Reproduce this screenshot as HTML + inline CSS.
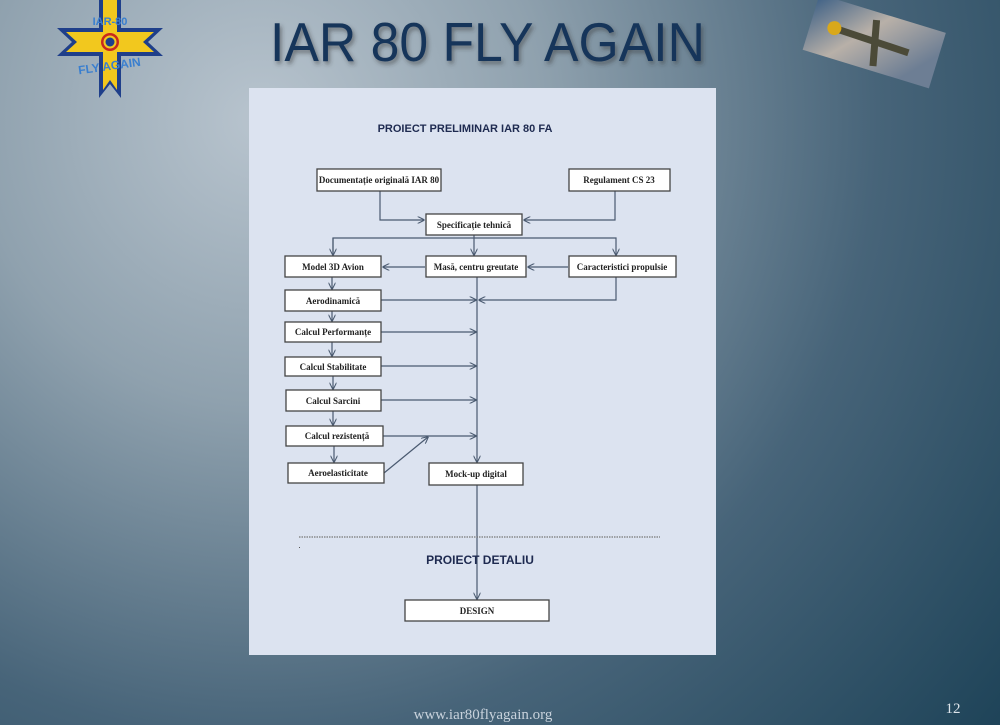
<!DOCTYPE html>
<html><head><meta charset="utf-8"><style>
html,body{margin:0;padding:0;width:1000px;height:725px;overflow:hidden}
svg{display:block}
.b{fill:#fff;stroke:#444;stroke-width:1.3}
.t{font-family:"Liberation Serif",serif;font-weight:bold;font-size:9px;fill:#222;text-anchor:middle}
.l{stroke:#4a5a70;stroke-width:1.2;fill:none}
</style></head><body>
<svg width="1000" height="725" viewBox="0 0 1000 725" xmlns="http://www.w3.org/2000/svg">
<defs>
<radialGradient id="bg" cx="260" cy="120" r="950" gradientUnits="userSpaceOnUse">
<stop offset="0" stop-color="#b8c4ce"/><stop offset="0.3" stop-color="#8fa1ae"/><stop offset="0.65" stop-color="#476479"/><stop offset="1" stop-color="#1f4459"/>
</radialGradient>
<linearGradient id="pl" x1="0" y1="0" x2="1" y2="0.4"><stop offset="0" stop-color="#3c5f85"/><stop offset="0.5" stop-color="#b8b0a8"/><stop offset="1" stop-color="#6d7e94"/></linearGradient>
<filter id="sh"><feDropShadow dx="2" dy="3" stdDeviation="2" flood-color="#333" flood-opacity="0.5"/></filter>
<marker id="a" viewBox="0 0 10 10" refX="9" refY="5" markerWidth="6" markerHeight="6" orient="auto"><path d="M0,0 L10,5 L0,10" fill="none" stroke="#4a5a70" stroke-width="1.5"/></marker>
</defs>
<rect width="1000" height="725" fill="url(#bg)"/>
<!-- logo -->
<polygon points="99,0 121,0 121,28 163,28 148,42 163,56 121,56 121,98 110,84 99,98 99,56 57,56 72,42 57,28 99,28" fill="#1f3f8a"/>
<polygon points="103,0 117,0 117,32 154,32 143,42 154,52 117,52 117,90 110,80 103,90 103,52 66,52 77,42 66,32 103,32" fill="#f2c81e"/>
<circle cx="110" cy="42" r="9" fill="#c8281e"/><circle cx="110" cy="42" r="6.5" fill="#f2c81e"/><circle cx="110" cy="42" r="4.5" fill="#1f3f8a"/>
<text x="110" y="25" font-family="Liberation Sans,sans-serif" font-size="11" fill="#3a7fcf" text-anchor="middle" font-weight="bold">IAR-80</text>
<text x="110" y="70" font-family="Liberation Sans,sans-serif" font-size="12" fill="#3a7fcf" text-anchor="middle" font-weight="bold" transform="rotate(-8 110 70)">FLY AGAIN</text>
<!-- title -->
<text x="270" y="61" font-family="Liberation Sans,sans-serif" font-size="55" fill="#18365a" textLength="435" lengthAdjust="spacingAndGlyphs" filter="url(#sh)">IAR 80 FLY AGAIN</text>
<!-- plane -->
<g transform="rotate(17 873 42)">
<rect x="808" y="12" width="132" height="58" fill="url(#pl)"/>
<path d="M830,40 L910,42 M870,20 L880,65" stroke="#4b4a38" stroke-width="7"/>
<circle cx="832" cy="40" r="7" fill="#d9a81a"/>
</g>
<!-- paper -->
<rect x="249" y="88" width="467" height="567" fill="#dce3f0"/>
<text x="465" y="132" font-family="Liberation Sans,sans-serif" font-weight="bold" font-size="11" fill="#1e2a50" text-anchor="middle">PROIECT PRELIMINAR IAR 80 FA</text>
<!-- connectors -->
<path class="l" d="M380,191 V220 H424" marker-end="url(#a)"/>
<path class="l" d="M615,191 V220 H524" marker-end="url(#a)"/>
<path class="l" d="M333,255 V238 H616 V255" marker-end="url(#a)"/>
<path class="l" d="M333,238 V255" marker-end="url(#a)"/>
<path class="l" d="M474,235 V255" marker-end="url(#a)"/>
<path class="l" d="M425,267 H383" marker-end="url(#a)"/>
<path class="l" d="M568,267 H528" marker-end="url(#a)"/>
<path class="l" d="M477,277 V462" marker-end="url(#a)"/>
<path class="l" d="M616,277 V300 H479" marker-end="url(#a)"/>
<path class="l" d="M381,300 H476" marker-end="url(#a)"/>
<path class="l" d="M332,277 V289" marker-end="url(#a)"/>
<path class="l" d="M332,311 V321" marker-end="url(#a)"/>
<path class="l" d="M332,342 V356" marker-end="url(#a)"/>
<path class="l" d="M333,376 V389" marker-end="url(#a)"/>
<path class="l" d="M333,411 V425" marker-end="url(#a)"/>
<path class="l" d="M334,446 V462" marker-end="url(#a)"/>
<path class="l" d="M381,332 H476" marker-end="url(#a)"/>
<path class="l" d="M381,366 H476" marker-end="url(#a)"/>
<path class="l" d="M381,400 H476" marker-end="url(#a)"/>
<path class="l" d="M383,436 H476" marker-end="url(#a)"/>
<path class="l" d="M384,473 L428,437" marker-end="url(#a)"/>
<path class="l" d="M477,485 V599" marker-end="url(#a)"/>
<line x1="299" y1="537" x2="660" y2="537" stroke="#777" stroke-width="1.3" stroke-dasharray="1.5 1"/>
<rect x="299" y="547" width="1" height="1" fill="#555"/>
<text x="480" y="564" font-family="Liberation Sans,sans-serif" font-weight="bold" font-size="12" fill="#1e2a50" text-anchor="middle">PROIECT DETALIU</text>
<!-- boxes -->
<rect class="b" x="317" y="169" width="124" height="22"/><text class="t" x="379" y="183">Documentație originală IAR 80</text>
<rect class="b" x="569" y="169" width="101" height="22"/><text class="t" x="619" y="183">Regulament CS 23</text>
<rect class="b" x="426" y="214" width="96" height="21"/><text class="t" x="474" y="228">Specificație tehnică</text>
<rect class="b" x="285" y="256" width="96" height="21"/><text class="t" x="333" y="270">Model 3D Avion</text>
<rect class="b" x="426" y="256" width="100" height="21"/><text class="t" x="476" y="270">Masă, centru greutate</text>
<rect class="b" x="569" y="256" width="107" height="21"/><text class="t" x="622" y="270">Caracteristici propulsie</text>
<rect class="b" x="285" y="290" width="96" height="21"/><text class="t" x="333" y="304">Aerodinamică</text>
<rect class="b" x="285" y="322" width="96" height="20"/><text class="t" x="333" y="335">Calcul Performanțe</text>
<rect class="b" x="285" y="357" width="96" height="19"/><text class="t" x="333" y="370">Calcul Stabilitate</text>
<rect class="b" x="286" y="390" width="95" height="21"/><text class="t" x="333" y="404">Calcul Sarcini</text>
<rect class="b" x="286" y="426" width="97" height="20"/><text class="t" x="337" y="439">Calcul rezistență</text>
<rect class="b" x="288" y="463" width="96" height="20"/><text class="t" x="338" y="476">Aeroelasticitate</text>
<rect class="b" x="429" y="463" width="94" height="22"/><text class="t" x="476" y="477">Mock-up digital</text>
<rect class="b" x="405" y="600" width="144" height="21"/><text class="t" x="477" y="614">DESIGN</text>
<!-- footer -->
<text x="483" y="719" font-family="Liberation Serif,serif" font-size="15" fill="#c8d2dc" text-anchor="middle">www.iar80flyagain.org</text>
<text x="953" y="713" font-family="Liberation Serif,serif" font-size="15" fill="#dde4ea" text-anchor="middle">12</text>
</svg>
</body></html>
